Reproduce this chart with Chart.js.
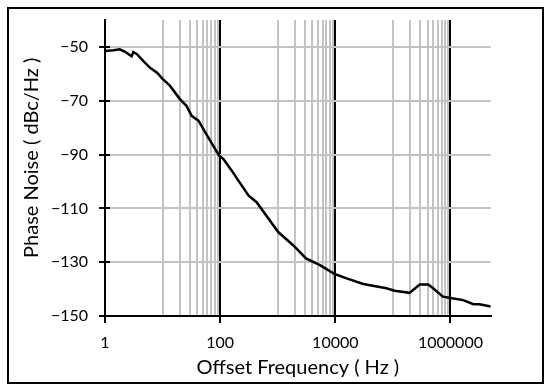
<!DOCTYPE html>
<html>
<head>
<meta charset="utf-8">
<script src="https://cdn.jsdelivr.net/npm/chart.js@4/dist/chart.umd.min.js"></script>
<style>
html,body{margin:0;padding:0;background:#fff;}
#wrap{width:550px;height:391px;position:relative;}
</style>
</head>
<body>
<div id="wrap"><canvas id="c" width="550" height="391"></canvas></div>
<script>
// ---- data ----
const freqHz = [1, 1.4, 1.8, 2.2, 2.9, 3.1, 3.6, 4.6, 6, 8, 10, 13.4, 20, 26, 32, 42, 62, 96, 113, 158, 206, 310, 430, 1020, 1850, 3100, 5400, 9800, 15700, 30600, 77000, 107000, 194000, 293000, 410000, 500000, 740000, 1000000, 1660000, 2500000, 3200000, 5000000];
const phaseNoise = [-51.5, -51.2, -50.9, -51.7, -53.5, -51.9, -52.7, -55.2, -57.7, -59.6, -61.9, -64.4, -69.4, -71.9, -75.6, -77.4, -83.6, -90.4, -91.6, -95.9, -99.6, -105.2, -107.7, -118.8, -123.7, -128.6, -131.1, -134.4, -136.0, -138.1, -139.7, -140.6, -141.4, -138.3, -138.3, -139.7, -142.8, -143.3, -144.1, -145.6, -145.6, -146.5];
const xLabelTicks = [1, 100, 10000, 1000000];
const yTicks = [-150, -130, -110, -90, -70, -50];
const xTitle = 'Offset Frequency ( Hz )';
const yTitle = 'Phase Noise ( dBc/Hz )';

// gridline positions: 10..100, 1000..10000, 1e5..1e6 (Excel log-base-100 style)
const xGridTicks = [1];
[10, 1000, 100000].forEach(b => { for (let k = 1; k <= 10; k++) xGridTicks.push(b * k); });

const FONT = 'Lato, "Open Sans", sans-serif';

const framePlugin = {
  id: 'frame',
  beforeDraw(chart) {
    const ctx = chart.ctx;
    ctx.save();
    ctx.fillStyle = '#fff';
    ctx.fillRect(0, 0, chart.width, chart.height);
    ctx.restore();
  },
  afterDraw(chart) {
    const ctx = chart.ctx;
    ctx.save();
    ctx.strokeStyle = '#000';
    ctx.lineWidth = 2;
    ctx.strokeRect(8, 8, 535, 375);
    // inward tick stubs on the y axis
    const y = chart.scales.y, left = chart.chartArea.left;
    ctx.lineWidth = 2;
    yTicks.forEach(v => {
      const py = Math.round(y.getPixelForValue(v));
      ctx.beginPath();
      ctx.moveTo(left, py);
      ctx.lineTo(left + 5, py);
      ctx.stroke();
    });
    ctx.restore();
  }
};

new Chart(document.getElementById('c'), {
  type: 'line',
  data: {
    datasets: [{
      data: freqHz.map((f, i) => ({x: f, y: phaseNoise[i]})),
      borderColor: '#000',
      borderWidth: 2.5,
      pointRadius: 0,
      tension: 0,
      fill: false
    }]
  },
  options: {
    responsive: false,
    animation: false,
    layout: {padding: {left: 0, right: 59.3, top: 20, bottom: 0}},
    plugins: {legend: {display: false}, tooltip: {enabled: false}},
    scales: {
      x: {
        type: 'logarithmic',
        min: 1,
        max: 5000000,
        afterBuildTicks(scale) { scale.ticks = xGridTicks.map(v => ({value: v})); },
        afterFit(scale) { scale.height = 75; scale.paddingLeft = 0; scale.paddingRight = 0; },
        ticks: {
          autoSkip: false,
          maxRotation: 0,
          padding: 10,
          color: '#000',
          font: {family: FONT, size: 16},
          callback(v) { return xLabelTicks.includes(v) ? String(v) : ''; }
        },
        grid: {
          drawTicks: true,
          tickLength: 7,
          tickWidth: 2,
          tickColor(ctx) { return xLabelTicks.includes(ctx.tick.value) ? '#000' : 'rgba(0,0,0,0)'; },
          color(ctx) { return (ctx.tick.value === 100 || ctx.tick.value === 10000 || ctx.tick.value === 1000000) ? '#000' : '#c3c3c3'; },
          lineWidth: 2
        },
        border: {display: true, color: '#000', width: 2},
        title: {
          display: true,
          text: xTitle,
          color: '#000',
          font: {family: FONT, size: 20},
          padding: {top: 0, bottom: 11}
        }
      },
      y: {
        type: 'linear',
        min: -150,
        max: -40,
        afterBuildTicks(scale) { scale.ticks = yTicks.map(v => ({value: v})); },
        afterFit(scale) { scale.width = 105; scale.paddingTop = 0; scale.paddingBottom = 0; },
        ticks: {
          padding: 11,
          color: '#000',
          font: {family: FONT, size: 16},
          callback(v) { return v < 0 ? '\u2212' + Math.abs(v) : String(v); }
        },
        grid: {
          drawTicks: true,
          tickLength: 6,
          tickWidth: 2,
          tickColor: '#000',
          color: '#c3c3c3',
          lineWidth: 2
        },
        border: {display: true, color: '#000', width: 2},
        title: {
          display: true,
          text: '    ' + yTitle,
          color: '#000',
          font: {family: FONT, size: 20},
          padding: {top: 20, bottom: 0}
        }
      }
    }
  },
  plugins: [framePlugin]
});
</script>
</body>
</html>
